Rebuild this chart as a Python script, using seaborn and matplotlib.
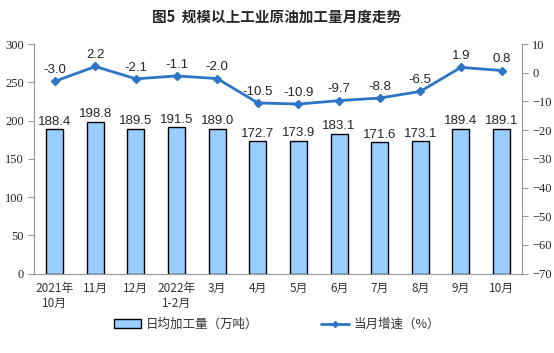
import pandas as pd
import matplotlib.pyplot as plt
import seaborn as sns
from matplotlib.patches import Patch
from matplotlib.lines import Line2D

# 数据
months = ["2021年\n10月", "11月", "12月", "2022年\n1-2月", "3月", "4月",
          "5月", "6月", "7月", "8月", "9月", "10月"]
daily_output = [188.4, 198.8, 189.5, 191.5, 189.0, 172.7, 173.9, 183.1, 171.6, 173.1, 189.4, 189.1]
growth = [-3.0, 2.2, -2.1, -1.1, -2.0, -10.5, -10.9, -9.7, -8.8, -6.5, 1.9, 0.8]

sns.set_style("white")
plt.rcParams['font.family'] = ['Noto Sans CJK SC', 'DejaVu Sans']

df = pd.DataFrame({"month": months, "output": daily_output, "growth": growth})

fig, ax = plt.subplots(figsize=(5.54, 3.53), dpi=100)
fig.subplots_adjust(left=0.062, right=0.942, top=0.875, bottom=0.225)

# 柱状图：日均加工量
sns.barplot(data=df, x="month", y="output", ax=ax, color="#99CCFF",
            edgecolor="black", linewidth=1.0, width=0.42, saturation=1)
for i, v in enumerate(daily_output):
    ax.text(i, v + 2, f"{v:.1f}", ha="center", va="bottom", fontsize=9.5,
            family=["Liberation Sans"])

ax.set_ylim(0, 300)
ax.set_yticks(range(0, 301, 50))
ax.set_xlabel("")
ax.set_ylabel("")
ax.set_xlim(-0.5, len(months) - 0.5)

# 折线图：当月增速
ax2 = ax.twinx()
ax2.plot(range(len(months)), growth, color="#2E75C6", linewidth=2,
         marker="D", markersize=4.5)
for i, v in enumerate(growth):
    ax2.text(i, v + 1.8, f"{v:.1f}", ha="center", va="bottom", fontsize=9.5,
             family=["Liberation Sans"])
ax2.set_ylim(-70, 10)
ax2.set_yticks(range(-70, 11, 10))

for a in (ax, ax2):
    for s in a.spines.values():
        s.set_visible(False)
    a.tick_params(axis="y", length=4, color="#999999", labelsize=9)
    for lab in a.get_yticklabels():
        lab.set_family(["Liberation Serif"])
ax.spines["left"].set_visible(True)
ax.spines["left"].set_color("#999999")
ax.spines["bottom"].set_visible(True)
ax.spines["bottom"].set_color("#999999")
ax2.spines["right"].set_visible(True)
ax2.spines["right"].set_color("#999999")
ax.tick_params(axis="x", length=0, labelsize=8.5, labelcolor="#333333", pad=6)
ax.tick_params(axis="y", left=True)
ax2.tick_params(axis="y", right=True)

# 图例
handles = [Patch(facecolor="#99CCFF", edgecolor="black", label="日均加工量（万吨）"),
           Line2D([0], [0], color="#2E75C6", linewidth=2, marker="D", markersize=3,
                  label="当月增速（%）")]
fig.legend(handles=handles, loc="lower center", ncol=2, frameon=False,
           bbox_to_anchor=(0.50, 0.03), fontsize=9, columnspacing=5,
           handlelength=2.2, handletextpad=0.4, labelcolor="#333333")

fig.suptitle("图5  规模以上工业原油加工量月度走势", fontsize=10.5, fontweight="bold", y=0.975)

plt.savefig("out.png", dpi=100)
